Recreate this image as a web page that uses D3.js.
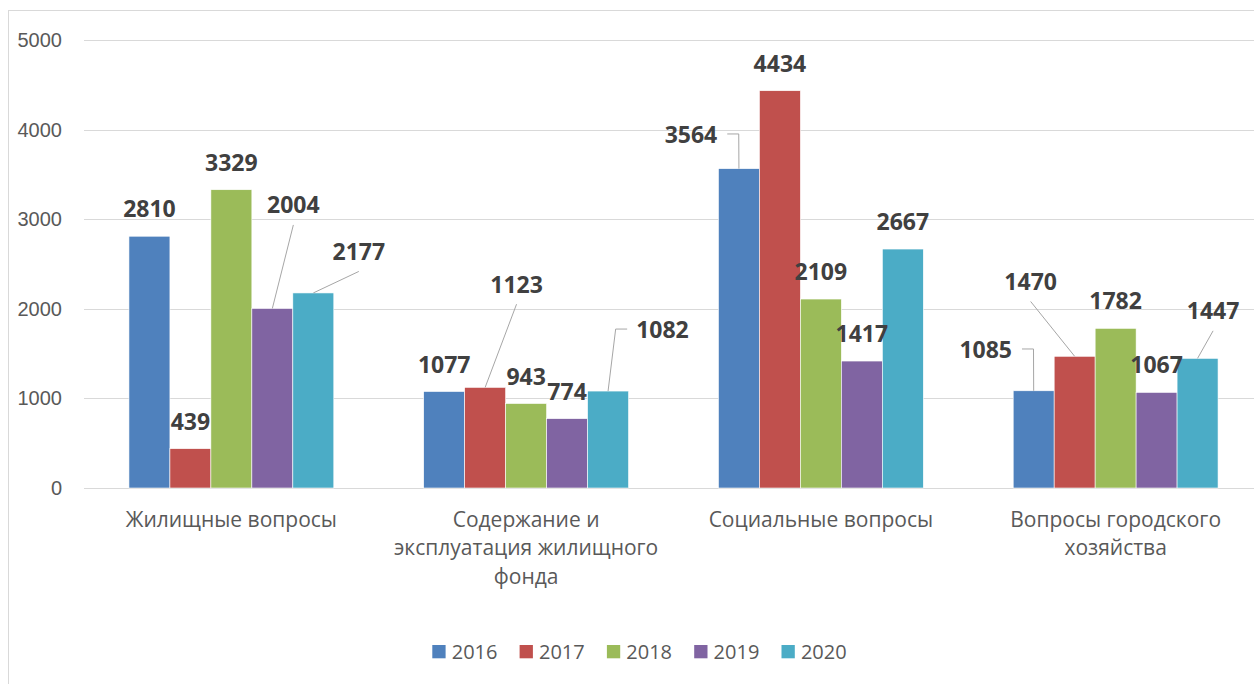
<!DOCTYPE html>
<html>
<head>
<meta charset="utf-8">
<title>Обращения по годам</title>
<style>
body { margin: 0; background: white; }
svg { display: block; font-family: "Open Sans", sans-serif; }
.grid line { stroke: #d9d9d9; stroke-width: 1; }
.y.axis text { fill: #595959; font-size: 20px; }
.x.axis text { fill: #595959; font-size: 21px; }
.label { fill: #404040; font-size: 23px; font-weight: 700; }
.leader { fill: none; stroke: #a6a6a6; stroke-width: 1; }
.legend text { fill: #595959; font-size: 20px; }
</style>
</head>
<body>
<svg id="chart" width="1254" height="684"></svg>
<script src="https://cdn.jsdelivr.net/npm/d3@7"></script>
<script>

var categories = ["Жилищные вопросы", "Содержание и\nэксплуатация жилищного\nфонда", "Социальные вопросы", "Вопросы городского\nхозяйства"];
var years = ["2016", "2017", "2018", "2019", "2020"];
var v2016 = [2810, 1077, 3564, 1085];
var v2017 = [439, 1123, 4434, 1470];
var v2018 = [3329, 943, 2109, 1782];
var v2019 = [2004, 774, 1417, 1067];
var v2020 = [2177, 1082, 2667, 1447];
var yTicks = [0, 1000, 2000, 3000, 4000, 5000];

var colors = ["#4f81bd", "#c0504d", "#9bbb59", "#8064a2", "#4bacc6"];
var seriesValues = [v2016, v2017, v2018, v2019, v2020];

// labels Excel moved off the bar (offset from bar top centre, leader side)
var moved = {
	"0|3": {dx: 21, dy: -95, side: "bottom"},
	"0|4": {dx: 45.5, dy: -33, side: "bottom"},
	"1|1": {dx: 31.4, dy: -94.7, side: "bottom"},
	"1|4": {dx: 54.4, dy: -52.7, side: "left"},
	"2|0": {dx: -48, dy: -25.4, side: "right"},
	"3|0": {dx: -48, dy: -32.5, side: "right"},
	"3|1": {dx: -44, dy: -66.3, side: "bottom"},
	"3|4": {dx: 15.5, dy: -39, side: "bottom"}
};

var svg = d3.select("#chart");

// outer chart border
svg.append("rect")
    .attr("x", 8.5).attr("y", 10.5)
    .attr("width", 1300).attr("height", 700)
    .attr("fill", "none").attr("stroke", "#d9d9d9");

var x0 = d3.scaleBand()
    .domain(d3.range(categories.length))
    .range([84, 1263])
    .paddingInner(0.305)
    .paddingOuter(0.1525);

var x1 = d3.scaleBand()
    .domain(d3.range(years.length))
    .range([0, x0.bandwidth()]);

var y = d3.scaleLinear()
    .domain([0, 5000])
    .range([488, 40]);

svg.append("g")
    .attr("class", "grid")
  .selectAll("line")
  .data(yTicks)
  .enter().append("line")
    .attr("x1", 84).attr("x2", 1263)
    .attr("y1", function(d) { return Math.round(y(d)) + 0.5; })
    .attr("y2", function(d) { return Math.round(y(d)) + 0.5; });

var yAxis = d3.axisLeft(y).tickValues(yTicks).tickFormat(d3.format("d")).tickSize(0).tickPadding(0);
svg.append("g")
    .attr("class", "y axis")
    .attr("transform", "translate(62,0)")
    .call(yAxis)
    .call(function(g) { g.select(".domain").remove(); })
    .selectAll("text").attr("font-family", null).attr("font-size", null);

// bars
var cells = [];
categories.forEach(function(c, ci) {
	years.forEach(function(yr, si) {
		cells.push({ci: ci, si: si, value: seriesValues[si][ci]});
	});
});

svg.append("g").selectAll("rect")
  .data(cells)
  .enter().append("rect")
    .attr("x", function(d) { return x0(d.ci) + x1(d.si); })
    .attr("y", function(d) { return y(d.value); })
    .attr("width", x1.bandwidth())
    .attr("height", function(d) { return y(0) - y(d.value); })
    .attr("fill", function(d) { return colors[d.si]; })
    .attr("stroke", "white")
    .attr("stroke-width", 0.6);

// data labels
var labels = svg.append("g");
cells.forEach(function(d) {
	var cx = x0(d.ci) + x1(d.si) + x1.bandwidth() / 2;
	var top = y(d.value);
	var m = moved[d.ci + "|" + d.si];
	var lx = cx, ly = top - 19;
	if (m) { lx = cx + m.dx; ly = top + m.dy; }
	var t = labels.append("text")
	    .attr("class", "label")
	    .attr("x", lx).attr("y", ly)
	    .attr("text-anchor", "middle")
	    .text(d.value);
	if (!m) return;
	var w = t.node().getComputedTextLength();
	var pts;
	if (m.side === "bottom") {
		pts = [[cx, top], [lx, ly + 11.5]];
	} else if (m.side === "left") {
		var ex = lx - w / 2 - 9;
		pts = [[cx, top], [ex - 11.5, ly - 9.3], [ex, ly - 9.3]];
	} else {
		var ex2 = lx + w / 2 + 10;
		pts = [[cx, top], [ex2 + 11.5, ly - 9.3], [ex2, ly - 9.3]];
	}
	labels.append("path")
	    .attr("class", "leader")
	    .attr("d", d3.line()(pts));
});

// category axis labels
var xAxis = svg.append("g").attr("class", "x axis");
categories.forEach(function(c, ci) {
	var t = xAxis.append("text")
	    .attr("text-anchor", "middle")
	    .attr("x", x0(ci) + x0.bandwidth() / 2)
	    .attr("y", 526.5);
	c.split("\n").forEach(function(line, li) {
		t.append("tspan")
		    .attr("x", x0(ci) + x0.bandwidth() / 2)
		    .attr("dy", li === 0 ? 0 : 28.5)
		    .text(line);
	});
});

// legend
var legend = svg.append("g").attr("class", "legend")
  .selectAll("g")
  .data(years)
  .enter().append("g")
    .attr("transform", function(d, i) { return "translate(" + (432.3 + i * 87.3) + ",645)"; });
legend.append("rect")
    .attr("width", 13.3).attr("height", 13.3)
    .attr("fill", function(d, i) { return colors[i]; });
legend.append("text")
    .attr("x", 19.4).attr("y", 14)
    .text(function(d) { return d; });

</script>
</body>
</html>
